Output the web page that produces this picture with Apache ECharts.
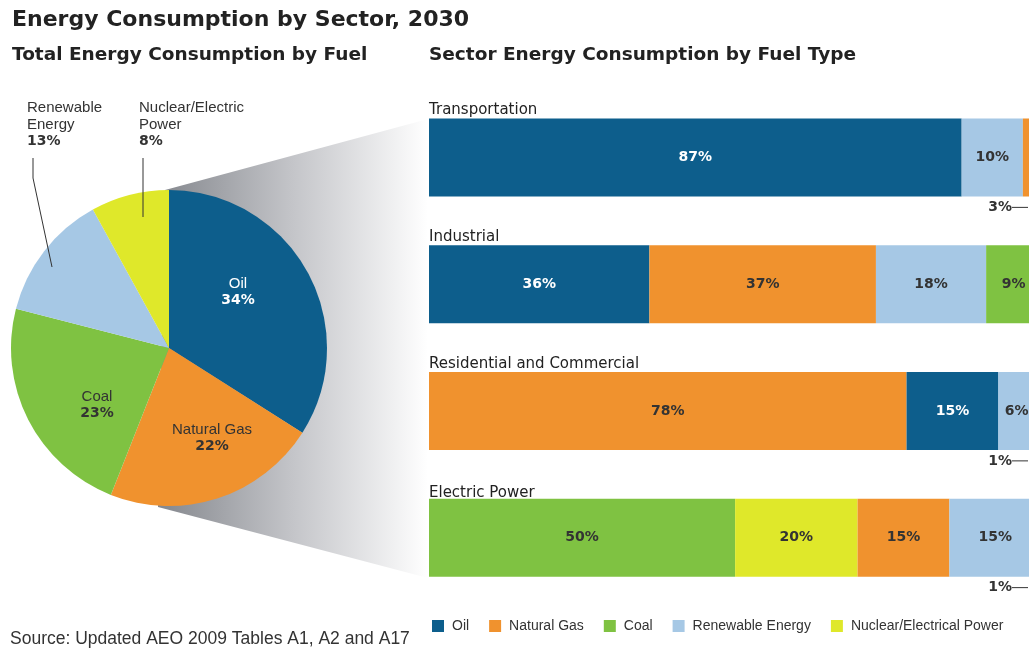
<!DOCTYPE html>
<html>
<head>
<meta charset="utf-8">
<script src="https://cdn.jsdelivr.net/npm/echarts@6/dist/echarts.min.js"></script>
<style>
html, body { margin: 0; padding: 0; background: #fff; }
#main { width: 1029px; height: 649px; }
</style>
</head>
<body>
<div id="main"></div>
<script>
var byId = function(id){
	return document.getElementById(id);
};

// fuels (legend + pie)
var fuels = ['Oil', 'Natural Gas', 'Coal', 'Renewable Energy', 'Nuclear/Electric Power'];
var fuelColors = ['#0d5e8c', '#f0922e', '#7fc242', '#a6c8e5', '#dfe82a'];
var legendLabels = ['Oil', 'Natural Gas', 'Coal', 'Renewable Energy', 'Nuclear/Electrical Power'];
var pieLabels = ['Oil', 'Natural Gas', 'Coal', 'Renewable\nEnergy', 'Nuclear/Electric\nPower'];
var totalShare = [34, 22, 23, 13, 8];

// sectors, segments in drawing order
var sectors = ['Transportation', 'Industrial', 'Residential and Commercial', 'Electric Power'];
var transportFuels = ['Oil', 'Renewable Energy', 'Natural Gas'];
var transportShares = [87, 10, 3];
var industrialFuels = ['Oil', 'Natural Gas', 'Renewable Energy', 'Coal'];
var industrialShares = [36, 37, 18, 9];
var residentialFuels = ['Natural Gas', 'Oil', 'Renewable Energy', 'Coal'];
var residentialShares = [78, 15, 6, 1];
var electricFuels = ['Coal', 'Nuclear/Electric Power', 'Natural Gas', 'Renewable Energy', 'Oil'];
var electricShares = [50, 20, 15, 15, 1];

var sectorFuels = [transportFuels, industrialFuels, residentialFuels, electricFuels];
var sectorShares = [transportShares, industrialShares, residentialShares, electricShares];

var FONT = '"Liberation Sans", Arial, sans-serif';
var BOLD = '"DejaVu Sans", "Liberation Sans", sans-serif';

var chart = echarts.init(byId('main'));

// pie label spots (text only) + leader lines for the two small slices
var pieLabelPos = [
	{x: 238, y: 292, align: 'center', verticalAlign: 'middle'},
	{x: 212, y: 438, align: 'center', verticalAlign: 'middle'},
	{x: 97, y: 405, align: 'center', verticalAlign: 'middle'},
	{x: 27, y: 99, align: 'left', verticalAlign: 'top'},
	{x: 139, y: 99, align: 'left', verticalAlign: 'top'}
];
var leaderLines = [
	[[33, 158], [33, 178], [52, 267]],
	[[143, 158], [143, 217]]
];

var pieData = fuels.map(function(f, i){
	var c = i === 0 ? '#fff' : '#333';
	return {
		name: f,
		value: totalShare[i],
		itemStyle: {color: fuelColors[i]},
		label: {
			position: 'inside',
			overflow: 'none',
			rich: {
				n: {fontFamily: FONT, fontSize: 15, color: c, lineHeight: 17},
				v: {fontFamily: BOLD, fontSize: 14, fontWeight: 'bold', color: c, lineHeight: 17}
			}
		}
	};
});

var barSeries = [];
for (var s = 0; s < 5; s++) {
	(function(slot){
		var data = sectors.map(function(sec, r){
			var v = sectorShares[r][slot];
			if (v == null) return '-';
			var fi = fuels.indexOf(sectorFuels[r][slot]);
			var small = v < 5;
			return {
				value: v,
				itemStyle: {color: fuelColors[fi]},
				label: {
					show: true,
					position: 'inside',
					formatter: small ? '{v|' + v + '%}{ln| }' : v + '%',
					color: fi === 0 ? '#fff' : '#333',
					fontFamily: BOLD,
					fontSize: 14,
					fontWeight: 'bold',
					rich: {
						v: {fontFamily: BOLD, fontSize: 14, fontWeight: 'bold', color: '#333'},
						ln: {width: 16, height: 1, backgroundColor: '#333', verticalAlign: 'middle'}
					}
				}
			};
		});
		barSeries.push({
			type: 'bar',
			stack: 'sector',
			barWidth: 78,
			clip: false,
			silent: true,
			data: data,
			labelLayout: function(p){
				var v = sectorShares[p.dataIndex][slot];
				if (v != null && v < 5) {
					return {
						x: chart.getWidth() - 1,
						y: p.rect.y + p.rect.height + 11,
						align: 'right',
						verticalAlign: 'middle'
					};
				}
				return {};
			}
		});
	})(s);
}

var titles = [
	{text: 'Energy Consumption by Sector, 2030', left: 7, top: 4,
		textStyle: {fontFamily: BOLD, fontSize: 22, fontWeight: 'bold', color: '#222'}},
	{text: 'Total Energy Consumption by Fuel', left: 7, top: 41,
		textStyle: {fontFamily: BOLD, fontSize: 18.5, fontWeight: 'bold', color: '#222'}},
	{text: 'Sector Energy Consumption by Fuel Type', left: 424, top: 41,
		textStyle: {fontFamily: BOLD, fontSize: 18.5, fontWeight: 'bold', color: '#222'}},
	{text: 'Source: Updated AEO 2009 Tables A1, A2 and A17', left: 5, top: 625,
		textStyle: {fontFamily: FONT, fontSize: 17.5, fontWeight: 'normal', color: '#333'}}
];
var rowTops = [98, 225, 352, 481];
sectors.forEach(function(sec, r){
	titles.push({text: sec, left: 424, top: rowTops[r],
		textStyle: {fontFamily: '"DejaVu Sans", sans-serif', fontSize: 15, fontWeight: 'normal', color: '#222'}});
});

var option = {
	backgroundColor: '#fff',
	animation: false,
	title: titles,
	legend: {
		data: fuels,
		left: 427,
		top: 614,
		itemWidth: 12,
		itemHeight: 12,
		itemGap: 20,
		icon: 'rect',
		selectedMode: false,
		formatter: function(name){
			return legendLabels[fuels.indexOf(name)];
		},
		textStyle: {fontFamily: FONT, fontSize: 14, color: '#333', padding: [0, 0, 0, 3]}
	},
	graphic: [{
		type: 'polygon',
		z: -1,
		shape: {points: [[165, 190], [428, 119], [428, 578], [158, 507]]},
		style: {
			fill: {
				type: 'linear', x: 0, y: 0, x2: 1, y2: 0,
				colorStops: [
					{offset: 0, color: '#84878d'},
					{offset: 0.5, color: '#c4c5c9'},
					{offset: 1, color: '#ffffff'}
				]
			}
		}
	}].concat(leaderLines.map(function(pts){
		return {
			type: 'polyline',
			z: 100,
			shape: {points: pts},
			style: {stroke: '#333', lineWidth: 1, fill: null}
		};
	})),
	// grid is clamped at the canvas edge; max below 100 lets the bars run off the right side
	grid: {left: 429, top: 94, width: 600, height: 507},
	xAxis: {type: 'value', min: 0, max: 98, show: false},
	yAxis: {type: 'category', data: sectors, inverse: true, show: false},
	series: [{
		type: 'pie',
		center: [169, 348],
		radius: 158,
		startAngle: 90,
		clockwise: true,
		silent: true,
		avoidLabelOverlap: false,
		label: {
			show: true,
			overflow: 'none',
			formatter: function(p){
				return '{n|' + pieLabels[p.dataIndex] + '}\n{v|' + p.value + '%}';
			}
		},
		labelLine: {show: false},
		labelLayout: function(p){
			var pos = pieLabelPos[p.dataIndex];
			return {x: pos.x, y: pos.y, align: pos.align, verticalAlign: pos.verticalAlign, hideOverlap: false};
		},
		data: pieData
	}].concat(barSeries)
};

chart.setOption(option);
</script>
</body>
</html>
